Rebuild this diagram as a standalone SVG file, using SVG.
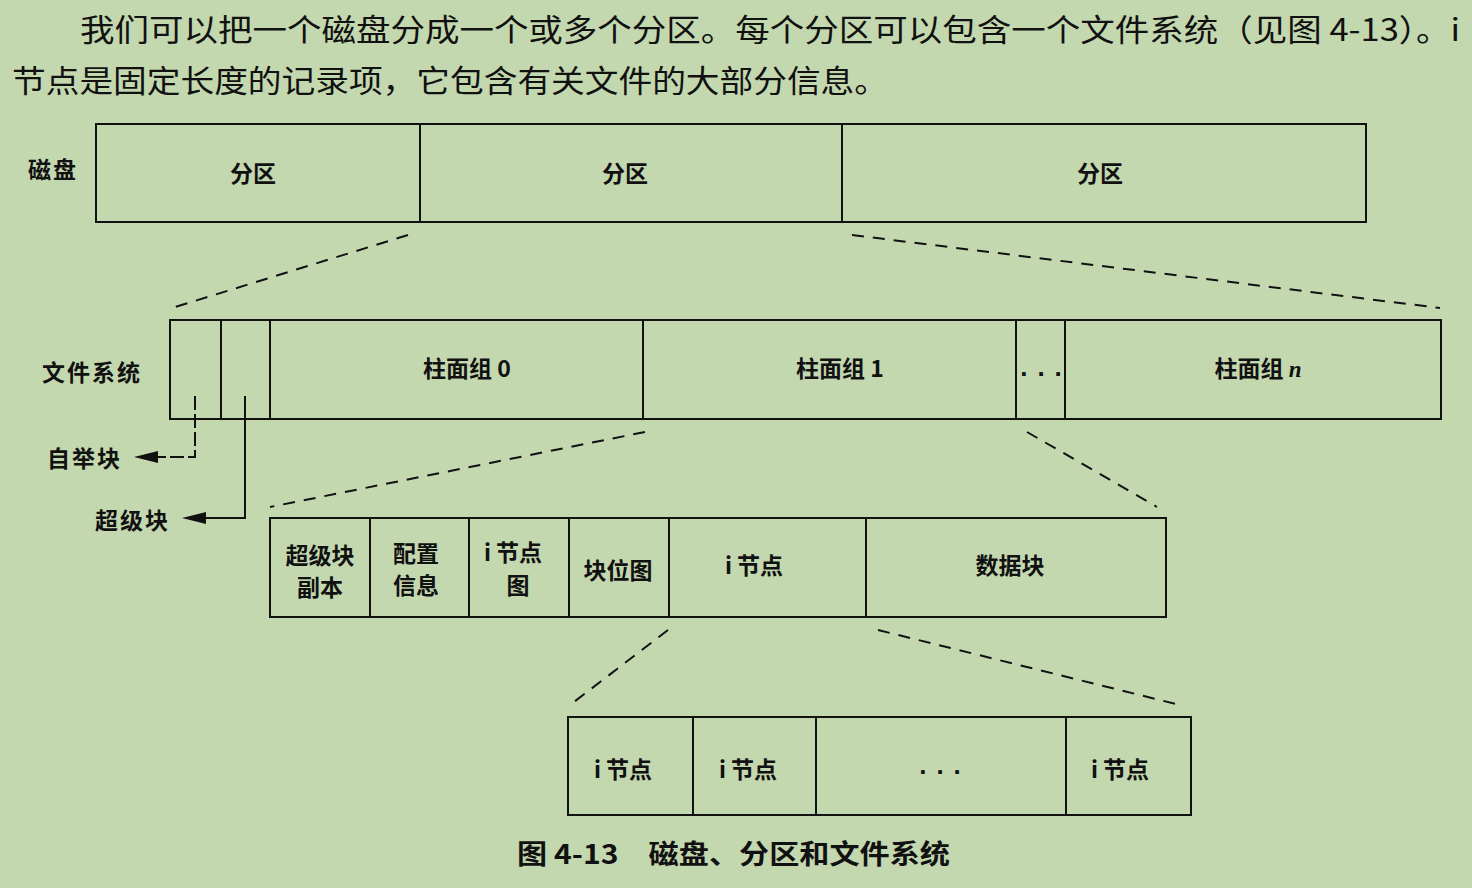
<svg xmlns="http://www.w3.org/2000/svg" width="1472" height="888" viewBox="0 0 1472 888">
<style>
.bg{fill:#c4d8b0}
.box{fill:none;stroke:#111;stroke-width:2}
.ln{stroke:#111;stroke-width:2;fill:none}
.dash{stroke:#111;stroke-width:2;fill:none;stroke-dasharray:12 9}
.para{font-family:"Noto Sans CJK SC","Liberation Serif",serif;font-size:31px;fill:#111}
.lbl{font-family:"Noto Sans CJK SC","Liberation Sans",sans-serif;font-size:23px;font-weight:bold;fill:#111;text-anchor:middle}
.side{font-family:"Noto Sans CJK SC","Liberation Sans",sans-serif;font-size:23px;font-weight:bold;fill:#111;letter-spacing:2px}
.dots{font-family:"Liberation Sans",sans-serif;font-size:26px;font-weight:bold;fill:#111;text-anchor:middle;letter-spacing:10px}
.cap{font-family:"Noto Sans CJK SC","Liberation Sans",sans-serif;font-size:27px;font-weight:bold;fill:#111}
</style>
<defs>
<marker id="ah" viewBox="0 0 24 12" refX="0" refY="6" markerWidth="24" markerHeight="12" markerUnits="userSpaceOnUse" orient="auto">
<polygon points="24,6 0,0 0,12" fill="#111"/>
</marker>
</defs>
<rect class="bg" x="0" y="0" width="1472" height="888"/>
<g id="paragraph">
<text class="para" x="80" y="41" textLength="1380" lengthAdjust="spacingAndGlyphs">我们可以把一个磁盘分成一个或多个分区。每个分区可以包含一个文件系统（见图 4-13）。i</text>
<text class="para" x="12" y="92" textLength="876" lengthAdjust="spacingAndGlyphs">节点是固定长度的记录项，它包含有关文件的大部分信息。</text>
</g>
<g id="disk">
<text class="side" x="28" y="178">磁盘</text>
<rect class="box" x="96" y="124" width="1270" height="98"/>
<line class="ln" x1="420" y1="124" x2="420" y2="222"/>
<line class="ln" x1="842" y1="124" x2="842" y2="222"/>
<text class="lbl" x="253" y="182">分区</text>
<text class="lbl" x="625" y="182">分区</text>
<text class="lbl" x="1100" y="182">分区</text>
</g>
<g id="filesystem">
<text class="side" x="42" y="381" letter-spacing="4">文件系统</text>
<rect class="box" x="170" y="320" width="1271" height="99"/>
<line class="ln" x1="221" y1="320" x2="221" y2="419"/>
<line class="ln" x1="270" y1="320" x2="270" y2="419"/>
<line class="ln" x1="643" y1="320" x2="643" y2="419"/>
<line class="ln" x1="1016" y1="320" x2="1016" y2="419"/>
<line class="ln" x1="1065" y1="320" x2="1065" y2="419"/>
<text class="lbl" x="467" y="377">柱面组 0</text>
<text class="lbl" x="840" y="377">柱面组 1</text>
<text class="dots" x="1046" y="376">...</text>
<text class="lbl" x="1258" y="377">柱面组 <tspan font-style="italic" font-family="Liberation Serif,serif">n</tspan></text>
</g>
<g id="bootblock">
<text class="side" x="47" y="467">自举块</text>
</g>
<g id="superblock">
<text class="side" x="95" y="529">超级块</text>
</g>
<g id="cylindergroup">
<rect class="box" x="270" y="518" width="896" height="99"/>
<line class="ln" x1="370" y1="518" x2="370" y2="617"/>
<line class="ln" x1="469" y1="518" x2="469" y2="617"/>
<line class="ln" x1="569" y1="518" x2="569" y2="617"/>
<line class="ln" x1="669" y1="518" x2="669" y2="617"/>
<line class="ln" x1="866" y1="518" x2="866" y2="617"/>
<text class="lbl" x="320" y="564">超级块</text>
<text class="lbl" x="320" y="596">副本</text>
<text class="lbl" x="416" y="562">配置</text>
<text class="lbl" x="416" y="594">信息</text>
<text class="lbl" x="513" y="561">i 节点</text>
<text class="lbl" x="518" y="594">图</text>
<text class="lbl" x="618" y="579">块位图</text>
<text class="lbl" x="754" y="574">i 节点</text>
<text class="lbl" x="1010" y="574">数据块</text>
</g>
<g id="inodes">
<rect class="box" x="568" y="717" width="623" height="98"/>
<line class="ln" x1="693" y1="717" x2="693" y2="815"/>
<line class="ln" x1="816" y1="717" x2="816" y2="815"/>
<line class="ln" x1="1066" y1="717" x2="1066" y2="815"/>
<text class="lbl" x="623" y="778">i 节点</text>
<text class="lbl" x="748" y="778">i 节点</text>
<text class="dots" x="945" y="774">...</text>
<text class="lbl" x="1120" y="778">i 节点</text>
</g>
<g id="connectors">
<line class="dash" x1="408" y1="235" x2="172" y2="308"/>
<line class="dash" x1="852" y1="235" x2="1440" y2="308"/>
<line class="dash" x1="645" y1="432" x2="270" y2="507"/>
<line class="dash" x1="1027" y1="432" x2="1157" y2="507"/>
<line class="dash" x1="668" y1="630" x2="570" y2="705"/>
<line class="dash" x1="878" y1="630" x2="1180" y2="705"/>
<path class="ln" d="M195,396 V457 H158" stroke-dasharray="14 4" marker-end="url(#ah)"/>
<path class="ln" d="M245,396 V518 H206" marker-end="url(#ah)"/>
</g>
<g id="caption">
<text class="cap" x="517" y="864" textLength="433" lengthAdjust="spacingAndGlyphs">图 4-13　磁盘、分区和文件系统</text>
</g>
</svg>
